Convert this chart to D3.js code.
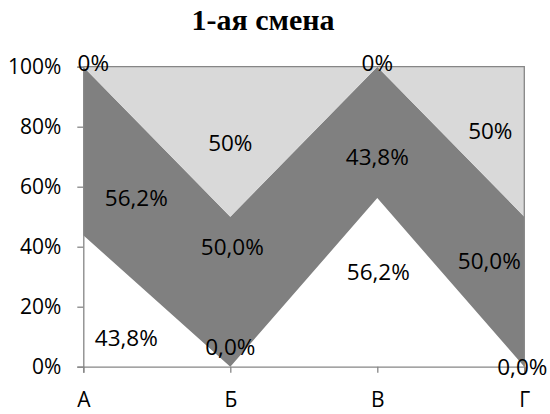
<!DOCTYPE html>
<html>
<head>
<meta charset="utf-8">
<script src="https://cdn.jsdelivr.net/npm/d3@7"></script>
<style>
  html, body { margin: 0; padding: 0; background: #fff; }
  svg { display: block; }
</style>
</head>
<body>
<svg id="chart" width="550" height="414"></svg>
<script>
// Shift data: share of each group per category (percent)
const categories = ["А", "Б", "В", "Г"];
const seriesBottom = [43.8, 0, 56.2, 0];
const seriesMiddle = [56.2, 50, 43.8, 50];
const seriesTop = [0, 50, 0, 50];
const yTicks = [0, 20, 40, 60, 80, 100];

// Label placement per series: [x offset px, y in percent units]
const labelPlaceBottom = [[43, 9.6], [0, 6.6], [1, 31.6], [-2, 0]];
const labelPlaceMiddle = [[53, 56.2], [2, 39.9], [0, 69.9], [-35, 35.2]];
const labelPlaceTop = [[10, 101.2], [0, 74.6], [0, 101.2], [-34, 78.6]];

const W = 550, H = 414;
const margin = { left: 83.3, right: 25.7, top: 66.7, bottom: 47.3 };
const svg = d3.select("#chart");

const x = d3.scalePoint().domain(categories).range([margin.left, W - margin.right]);
const y = d3.scaleLinear().domain([0, 100]).range([H - margin.bottom, margin.top]);

const rows = categories.map((c, i) => ({
  cat: c, bottom: seriesBottom[i], middle: seriesMiddle[i], top: seriesTop[i]
}));
const keys = ["bottom", "middle", "top"];
const stacked = d3.stack().keys(keys)(rows);
const fills = { bottom: "#ffffff", middle: "#808080", top: "#d9d9d9" };

const area = d3.area()
  .x(d => x(d.data.cat))
  .y0(d => y(d[0]))
  .y1(d => y(d[1]));

svg.append("g").selectAll("path")
  .data(stacked)
  .join("path")
  .attr("d", area)
  .attr("fill", d => fills[d.key])
  .attr("stroke", "none");

// plot frame on top and right edge
const gray = "#868686";
svg.append("path")
  .attr("d", `M${x("А")},${y(100)}H${x("Г")}V${y(0)}`)
  .attr("fill", "none")
  .attr("stroke", gray)
  .attr("stroke-width", 1.3);

// y axis
const yAxis = svg.append("g")
  .attr("transform", `translate(${margin.left},0)`)
  .call(d3.axisLeft(y).tickValues(yTicks).tickFormat(d => d + "%").tickSize(6).tickPadding(16));
yAxis.select(".domain").attr("stroke", gray).attr("stroke-width", 1.3);
yAxis.selectAll(".tick line").attr("stroke", gray).attr("stroke-width", 1.3);
yAxis.selectAll("text")
  .attr("font-family", "'Open Sans', sans-serif")
  .attr("font-size", 21)
  .attr("fill", "#000");

// x axis
const xAxis = svg.append("g")
  .attr("transform", `translate(0,${H - margin.bottom})`)
  .call(d3.axisBottom(x).tickSize(6).tickPadding(19));
xAxis.select(".domain").attr("stroke", gray).attr("stroke-width", 1.3);
xAxis.selectAll(".tick line").attr("stroke", gray).attr("stroke-width", 1.3);
xAxis.selectAll("text")
  .attr("font-family", "'Open Sans', sans-serif")
  .attr("font-size", 21)
  .attr("fill", "#000");

// data labels
const fmtOne = v => d3.format(".1f")(v).replace(".", ",") + "%";
const fmtInt = v => d3.format(".0f")(v) + "%";
const labelSets = [
  { values: seriesBottom, place: labelPlaceBottom, fmt: fmtOne },
  { values: seriesMiddle, place: labelPlaceMiddle, fmt: fmtOne },
  { values: seriesTop, place: labelPlaceTop, fmt: fmtInt }
];
const labelG = svg.append("g")
  .attr("font-family", "'Open Sans', sans-serif")
  .attr("font-size", 22.5)
  .attr("fill", "#000")
  .attr("text-anchor", "middle");
labelSets.forEach(set => {
  set.values.forEach((v, i) => {
    labelG.append("text")
      .attr("x", x(categories[i]) + set.place[i][0])
      .attr("y", y(set.place[i][1]))
      .attr("dy", "0.35em")
      .text(set.fmt(v));
  });
});

// title
svg.append("text")
  .attr("x", 263)
  .attr("y", 30)
  .attr("text-anchor", "middle")
  .attr("font-family", "'Liberation Serif', 'Times New Roman', serif")
  .attr("font-weight", "bold")
  .attr("font-size", 30)
  .text("1-ая смена");
</script>
</body>
</html>
